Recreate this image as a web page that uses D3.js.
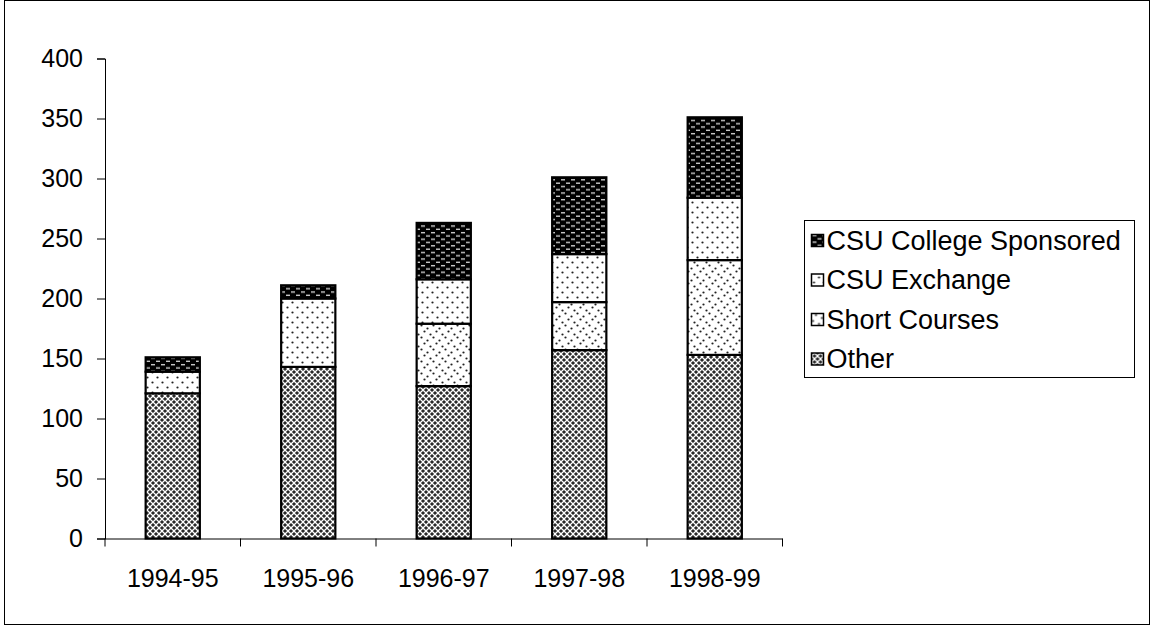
<!DOCTYPE html>
<html>
<head>
<meta charset="utf-8">
<script src="https://cdn.jsdelivr.net/npm/d3@7"></script>
<style>
  body { margin: 0; background: #fff; }
  svg text { font-family: "Liberation Sans", Arial, sans-serif; fill: #000; }
</style>
</head>
<body>
<div id="chart"></div>
<script>
// 데이터
const years = ['1994-95', '1995-96', '1996-97', '1997-98', '1998-99'];
const seriesNames = ['Other', 'Short Courses', 'CSU Exchange', 'CSU College Sponsored'];
const other = [121, 143, 127, 157, 153];
const shortCourses = [0, 0, 52, 40, 79];
const csuExchange = [18, 57, 37, 40, 52];
const collegeSponsored = [12, 11, 47, 64, 67];
const yTicks = [0, 50, 100, 150, 200, 250, 300, 350, 400];

const W = 1152, H = 627;
const svg = d3.select('#chart').append('svg')
    .attr('width', W)
    .attr('height', H);

// 패턴 정의
const defs = svg.append('defs');

// Other: 촘촘한 체크 패턴
const pOther = defs.append('pattern')
    .attr('id', 'p-other').attr('patternUnits', 'userSpaceOnUse')
    .attr('width', 6).attr('height', 6);
pOther.append('rect').attr('width', 6).attr('height', 6).attr('fill', '#fff');
[[0, 0], [6, 0], [0, 6], [6, 6], [3, 3]].forEach(([cx, cy]) => {
    pOther.append('path')
        .attr('d', `M${cx - 2.1},${cy} L${cx},${cy - 2.1} L${cx + 2.1},${cy} L${cx},${cy + 2.1} Z`)
        .attr('fill', '#2a2a2a');
});

// Short Courses: 조밀한 점
const pShort = defs.append('pattern')
    .attr('id', 'p-short').attr('patternUnits', 'userSpaceOnUse')
    .attr('width', 12).attr('height', 12);
pShort.append('rect').attr('width', 12).attr('height', 12).attr('fill', '#fff');
[[1.5, 1.5], [7.5, 4.5], [4.5, 7.5], [10.5, 10.5]].forEach(([cx, cy]) => {
    pShort.append('circle').attr('cx', cx).attr('cy', cy).attr('r', 1.1).attr('fill', '#222');
});

// CSU Exchange: 성긴 점
const pEx = defs.append('pattern')
    .attr('id', 'p-exchange').attr('patternUnits', 'userSpaceOnUse')
    .attr('width', 10).attr('height', 10);
pEx.append('rect').attr('width', 10).attr('height', 10).attr('fill', '#fff');
[[2.5, 2.5], [7.5, 7.5]].forEach(([cx, cy]) => {
    pEx.append('circle').attr('cx', cx).attr('cy', cy).attr('r', 1.1).attr('fill', '#222');
});

// CSU College Sponsored: 검정 바탕에 흰 대시
const pCol = defs.append('pattern')
    .attr('id', 'p-college').attr('patternUnits', 'userSpaceOnUse')
    .attr('width', 10).attr('height', 6.6);
pCol.append('rect').attr('width', 10).attr('height', 6.6).attr('fill', '#000');
pCol.append('rect').attr('x', 1).attr('y', 1).attr('width', 4).attr('height', 1.3).attr('fill', '#ddd');
pCol.append('rect').attr('x', 6).attr('y', 4.3).attr('width', 4).attr('height', 1.3).attr('fill', '#ddd');

const fills = {
    'Other': 'url(#p-other)',
    'Short Courses': 'url(#p-short)',
    'CSU Exchange': 'url(#p-exchange)',
    'CSU College Sponsored': 'url(#p-college)'
};

// 바깥 테두리
svg.append('rect')
    .attr('x', 4.5).attr('y', 0.5)
    .attr('width', 1145).attr('height', 624)
    .attr('fill', 'none').attr('stroke', '#000').attr('stroke-width', 1);

const x0 = 105, x1 = 782.5, yTop = 58.5, yBot = 538.5;

const x = d3.scaleBand()
    .domain(years)
    .range([x0, x1])
    .paddingInner(0.6)
    .paddingOuter(0.3);

const y = d3.scaleLinear()
    .domain([0, 400])
    .range([yBot, yTop]);

// 스택 데이터
const table = years.map((yr, i) => ({
    year: yr,
    'Other': other[i],
    'Short Courses': shortCourses[i],
    'CSU Exchange': csuExchange[i],
    'CSU College Sponsored': collegeSponsored[i]
}));
const stacked = d3.stack().keys(seriesNames)(table);

const barsGroup = svg.append('g');
stacked.forEach(layer => {
    barsGroup.append('g')
        .selectAll('rect')
        .data(layer.filter(d => d[1] > d[0]))
        .enter()
        .append('rect')
        .attr('x', d => x(d.data.year))
        .attr('y', d => y(d[1]))
        .attr('width', x.bandwidth())
        .attr('height', d => y(d[0]) - y(d[1]))
        .attr('fill', fills[layer.key])
        .attr('stroke', '#000')
        .attr('stroke-width', 2.2);
});

// Y축
const yAxis = svg.append('g')
    .attr('transform', `translate(${x0},0)`)
    .call(d3.axisLeft(y).tickValues(yTicks).tickSize(8).tickPadding(14));
yAxis.selectAll('text').style('font-size', '25px');

// X축
const xAxis = svg.append('g')
    .attr('transform', `translate(0,${yBot})`)
    .call(d3.axisBottom(x).tickSize(0).tickPadding(31));
xAxis.select('.domain').attr('d', `M${x0},0.5H${x1}`);
xAxis.selectAll('text').style('font-size', '25px');
const step = (x1 - x0) / years.length;
xAxis.selectAll('.boundary')
    .data(d3.range(years.length + 1))
    .enter()
    .append('line')
    .attr('x1', i => x0 + i * step)
    .attr('x2', i => x0 + i * step)
    .attr('y1', 0)
    .attr('y2', 8)
    .attr('stroke', '#000');

svg.selectAll('.domain, .tick line').attr('stroke', '#000');

// 범례
const legend = svg.append('g').attr('transform', 'translate(804.5,220.5)');
legend.append('rect')
    .attr('width', 330).attr('height', 157)
    .attr('fill', '#fff').attr('stroke', '#000');

const legendItems = seriesNames.slice().reverse();
const item = legend.selectAll('.item')
    .data(legendItems)
    .enter()
    .append('g')
    .attr('transform', (d, i) => `translate(7,${20 + i * 39.5})`);
item.append('rect')
    .attr('x', 0).attr('y', -6)
    .attr('width', 12).attr('height', 12)
    .attr('fill', d => fills[d])
    .attr('stroke', '#000').attr('stroke-width', 1.5);
item.append('text')
    .attr('x', 15)
    .attr('dy', '0.35em')
    .style('font-size', '27px')
    .text(d => d);
</script>
</body>
</html>
